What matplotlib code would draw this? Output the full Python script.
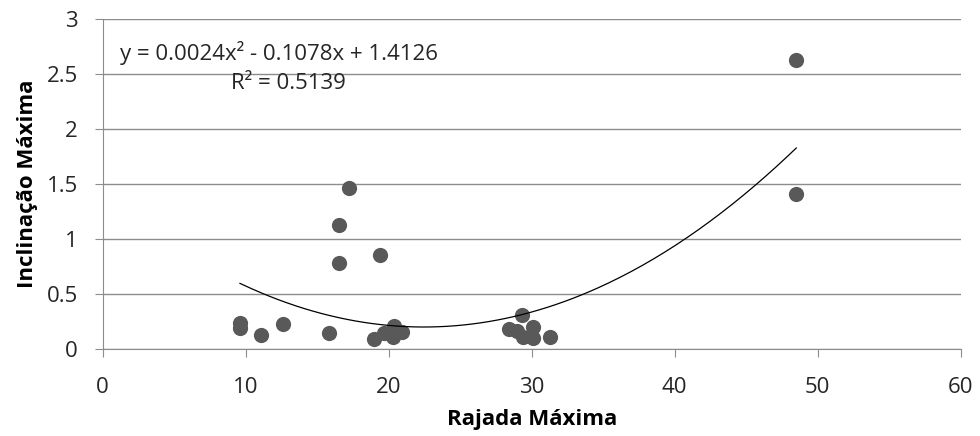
import numpy as np
import matplotlib.pyplot as plt

plt.rcParams['font.family'] = ['Open Sans', 'DejaVu Sans']

# Rajada Máxima (x) and Inclinação Máxima (y)
rajada = [9.6, 9.6, 11.1, 12.6, 15.8, 16.5, 16.5, 17.2, 19.4,
          19.0, 19.7, 20.3, 20.4, 20.9,
          28.4, 29.0, 29.3, 29.4, 30.1, 30.1, 31.3,
          48.5, 48.5]
inclinacao = [0.24, 0.19, 0.13, 0.23, 0.15, 1.13, 0.78, 1.47, 0.86,
              0.09, 0.15, 0.11, 0.21, 0.16,
              0.18, 0.17, 0.31, 0.11, 0.20, 0.10, 0.11,
              2.63, 1.41]

# polynomial trendline (order 2) as printed on the chart
coef = [0.0024, -0.1078, 1.4126]
r2 = 0.5139

fig = plt.figure(figsize=(9.8, 4.36), dpi=100)
ax = fig.add_axes([0.1048, 0.199, 0.8755, 0.7567])

ax.scatter(rajada, inclinacao, s=120, color='#595959', zorder=3, linewidths=0)

xs = np.linspace(min(rajada), max(rajada), 200)
ax.plot(xs, np.polyval(coef, xs), color='black', lw=0.9, zorder=4)

ax.set_xlim(0, 60)
ax.set_ylim(0, 3)
ax.set_xticks(range(0, 61, 10))
ax.set_yticks([0, 0.5, 1, 1.5, 2, 2.5, 3])
ax.set_yticklabels(['0', '0.5', '1', '1.5', '2', '2.5', '3'])

ax.grid(axis='y', color='#8c8c8c', lw=1)
ax.set_axisbelow(True)
for s in ['top', 'right']:
    ax.spines[s].set_visible(False)
for s in ['left', 'bottom']:
    ax.spines[s].set_color('#8c8c8c')
ax.tick_params(axis='both', colors='#8c8c8c', length=6, labelsize=16,
               labelcolor='#262626')
ax.tick_params(axis='x', pad=14)
ax.tick_params(axis='y', pad=12)

ax.set_xlabel('Rajada Máxima', fontsize=16, fontweight='bold', labelpad=8)
ax.set_ylabel('Inclinação Máxima', fontsize=16, fontweight='bold', labelpad=6)

eq = 'y = %.4fx² - %.4fx + %.4f' % (coef[0], -coef[1], coef[2])
ax.text(1.2, 2.69, eq, fontsize=16, color='#262626', va='center', ha='left')
ax.text(13.0, 2.42, 'R² = %.4f' % r2, fontsize=16, color='#262626',
        va='center', ha='center')

fig.savefig('out.png', dpi=100)
